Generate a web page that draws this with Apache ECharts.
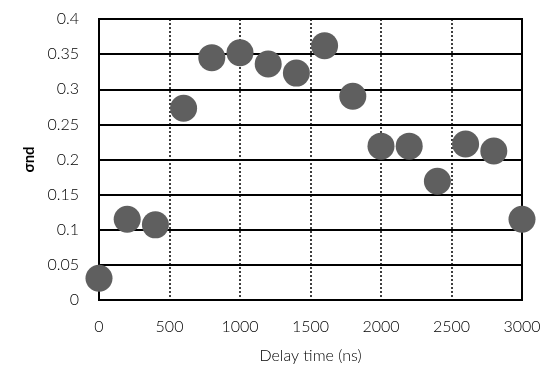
<!DOCTYPE html>
<html><head><meta charset="utf-8">
<script src="https://cdn.jsdelivr.net/npm/echarts@6/dist/echarts.min.js"></script>
<style>html,body{margin:0;padding:0;background:#fff}#c{width:549px;height:371px}</style>
</head><body><div id="c"></div>
<script>
const delayTimes = [0,200,400,600,800,1000,1200,1400,1600,1800,2000,2200,2400,2600,2800,3000];
const sigmaValues = [0.031,0.115,0.107,0.273,0.345,0.352,0.336,0.323,0.362,0.29,0.219,0.219,0.169,0.222,0.212,0.115];
const xTitle = 'Delay time (ns)';
const yTitle = 'σnd';

const chart = echarts.init(document.getElementById('c'), null, {renderer:'canvas'});
const font = 'Lato';
chart.setOption({
  animation:false,
  grid:{left:99,right:27,top:19,bottom:71,show:true,borderColor:'#000',borderWidth:2,backgroundColor:'transparent'},
  xAxis:{type:'value',min:0,max:3000,interval:500,
    name:xTitle,nameLocation:'middle',nameGap:48,
    nameTextStyle:{fontFamily:font,fontSize:16,fontWeight:300,color:'#000'},
    axisLine:{show:false},axisTick:{show:false},
    axisLabel:{fontFamily:font,fontSize:16,fontWeight:300,color:'#000',margin:19,formatter:v=>String(v)},
    splitLine:{show:true,lineStyle:{color:'#000',type:[2,2],width:1.5}}},
  yAxis:{type:'value',min:0,max:0.4,interval:0.05,
    name:yTitle,nameLocation:'middle',nameGap:62,nameRotate:90,
    nameTextStyle:{fontFamily:font,fontSize:15,fontWeight:'bold',color:'#000'},
    axisLine:{show:false},axisTick:{show:false},
    axisLabel:{fontFamily:font,fontSize:16,fontWeight:300,color:'#000',margin:20},
    splitLine:{show:true,lineStyle:{color:'#000',width:2}}},
  series:[{type:'scatter',symbol:'circle',symbolSize:27,
    itemStyle:{color:'#5f5f5f',opacity:1},
    data:delayTimes.map((x,i)=>[x,sigmaValues[i]])}]
});
</script></body></html>
